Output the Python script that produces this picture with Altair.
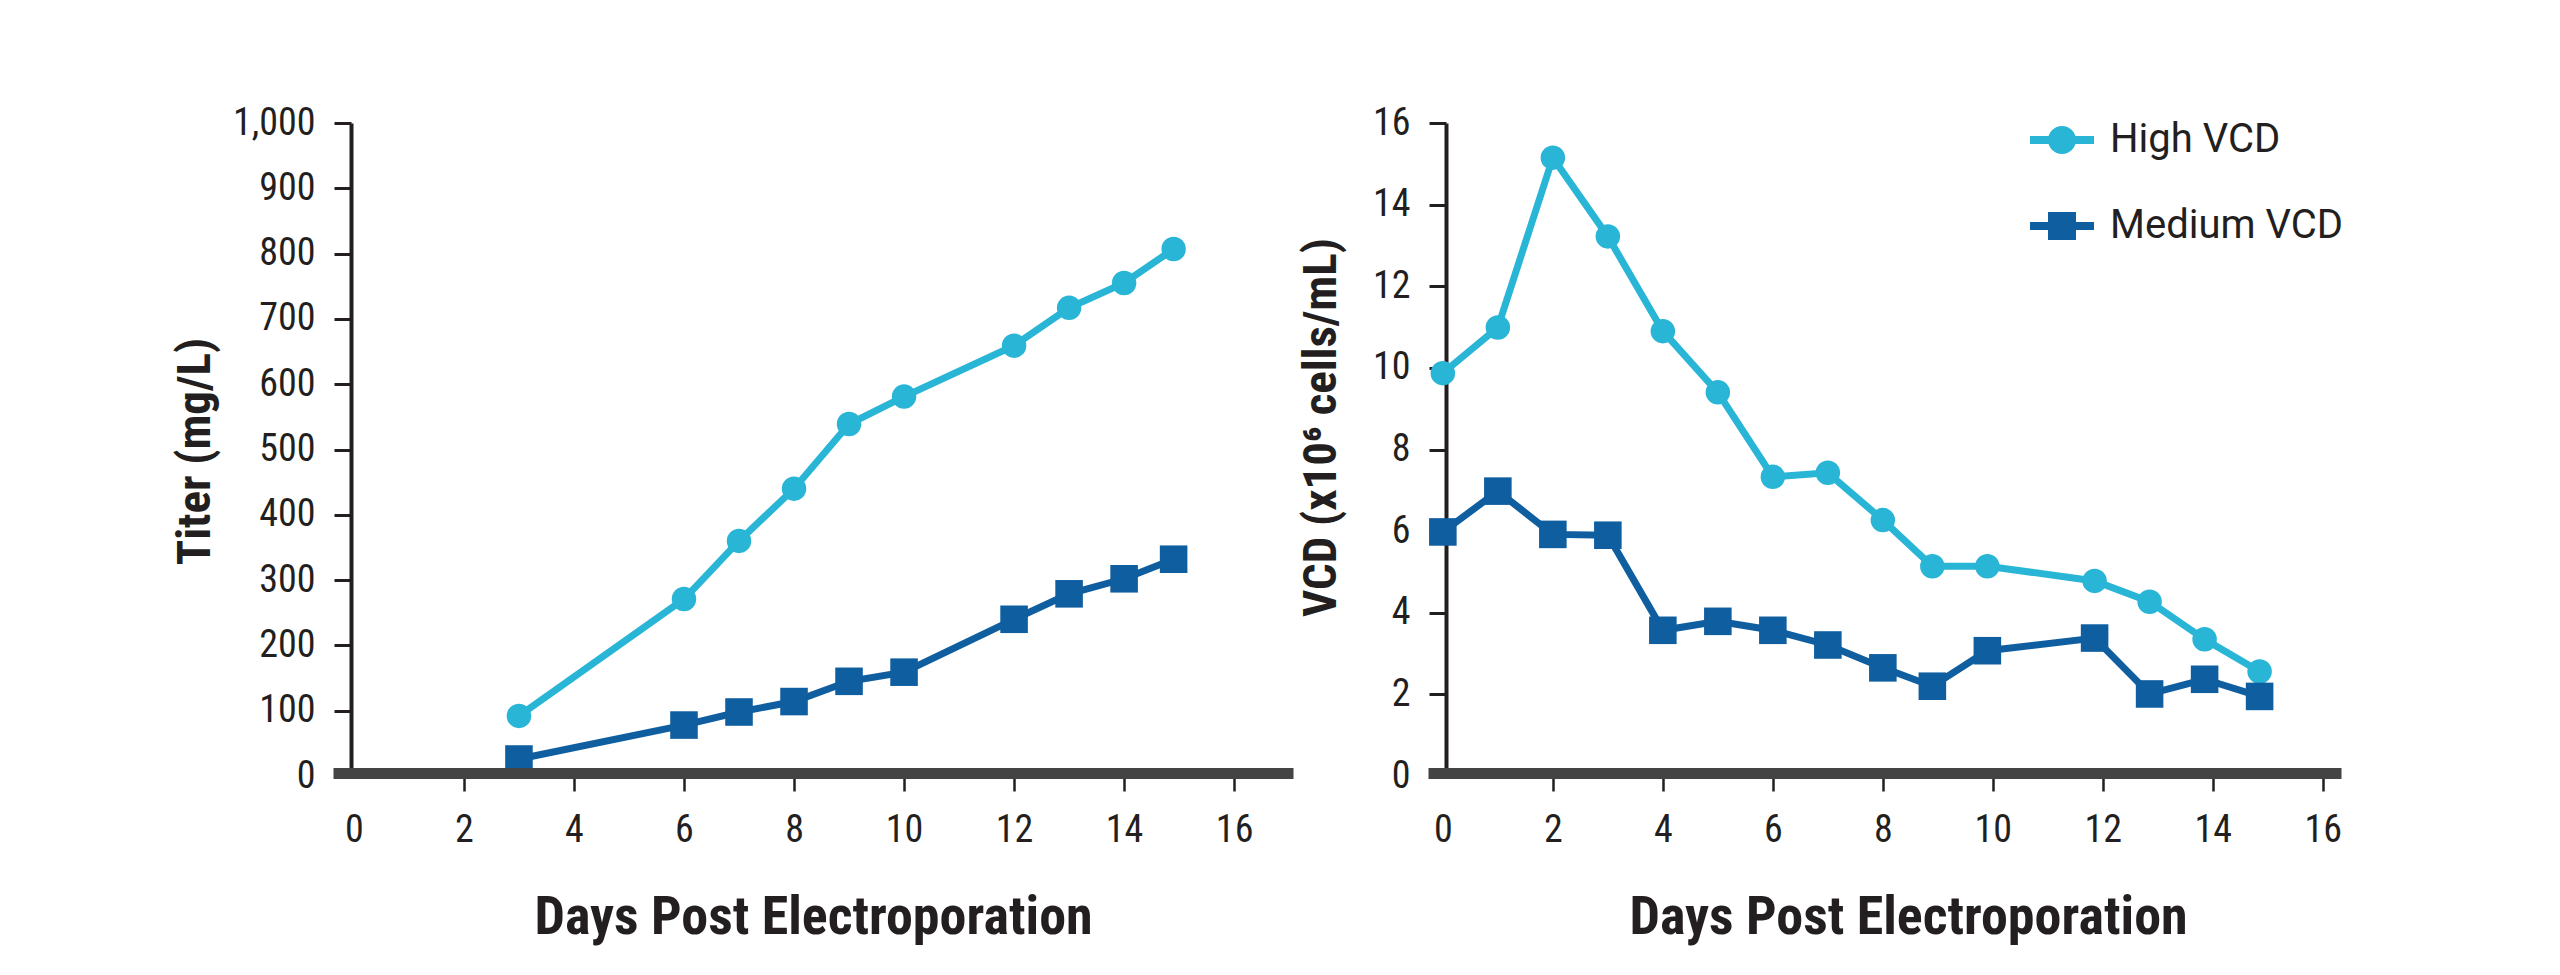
import altair as alt
import pandas as pd

# ---------------- data ----------------
series_names = ["High VCD", "Medium VCD"]
series_colors = ["#29B5D6", "#0F5EA0"]

days_titer = [3, 6, 7, 8, 9, 10, 12, 13, 14, 14.9]
titer_high = [92, 271, 360, 440, 539, 581, 659, 717, 755, 807]
titer_medium = [26, 78, 98, 114, 145, 159, 240, 279, 302, 332]

days_vcd = [0, 1, 2, 3, 4, 5, 6, 7, 8, 8.9, 9.9, 11.85, 12.85, 13.85, 14.85]
vcd_high = [9.87, 10.99, 15.15, 13.22, 10.9, 9.4, 7.33, 7.43, 6.27, 5.14, 5.14, 4.78, 4.27, 3.35, 2.56]
vcd_medium = [5.98, 6.98, 5.92, 5.9, 3.57, 3.79, 3.57, 3.21, 2.65, 2.2, 3.07, 3.38, 2.01, 2.37, 1.95]

x_ticks = [0, 2, 4, 6, 8, 10, 12, 14, 16]
titer_ticks = [0, 100, 200, 300, 400, 500, 600, 700, 800, 900, 1000]
vcd_ticks = [0, 2, 4, 6, 8, 10, 12, 14, 16]

x_title = "Days Post Electroporation"
titer_title = "Titer (mg/L)"
vcd_title = "VCD (x10\u2076 cells/mL)"

df_titer = pd.DataFrame({
    "day": days_titer + days_titer,
    "value": titer_high + titer_medium,
    "series": [series_names[0]] * len(days_titer) + [series_names[1]] * len(days_titer),
})
df_vcd = pd.DataFrame({
    "day": days_vcd + days_vcd,
    "value": vcd_high + vcd_medium,
    "series": [series_names[0]] * len(days_vcd) + [series_names[1]] * len(days_vcd),
})

# ---------------- style ----------------
FONT = "Liberation Sans Narrow, Roboto Condensed, DejaVu Sans Condensed, sans-serif"
LEG_FONT = "Roboto, Liberation Sans Narrow, sans-serif"
TXT = "#231F20"
H = 653

circle_leg = ("M-1,-0.125L1,-0.125L1,0.125L-1,0.125Z "
              "M-0.4375,0A0.4375,0.4375,0,1,1,0.4375,0A0.4375,0.4375,0,1,1,-0.4375,0Z")
square_leg = ("M-1,-0.125L1,-0.125L1,0.125L-1,0.125Z "
              "M-0.4375,-0.4375L0.4375,-0.4375L0.4375,0.4375L-0.4375,0.4375Z")


def color_enc(legend=None):
    return alt.Color("series:N", scale=alt.Scale(domain=series_names, range=series_colors), legend=legend)


def x_enc(domain):
    return alt.X(
        "day:Q",
        scale=alt.Scale(domain=domain, nice=False, zero=False),
        axis=alt.Axis(
            values=x_ticks, format="d", grid=False,
            domainColor="#444444", domainWidth=11, offset=-3,
            tickColor={"condition": {"test": "datum.value === 0", "value": "transparent"}, "value": TXT},
            tickWidth=2.5, tickSize=18,
            labelFont=FONT, labelFontSize=38, labelColor=TXT, labelPadding=20,
            labelFlush=False, labelOverlap=False,
            title=x_title, titleFont=FONT, titleFontWeight="bold", titleFontSize=54,
            titleColor=TXT, titleX=480, titleY=160, titleAlign="center",
            titleBaseline="alphabetic", zindex=2,
        ),
    )


def y_enc(domain, ticks, fmt, title, tx, ty):
    return alt.Y(
        "value:Q",
        scale=alt.Scale(domain=domain, nice=False),
        axis=alt.Axis(
            values=ticks, format=fmt, grid=False,
            domainColor=TXT, domainWidth=4, offset=-18,
            tickColor=TXT, tickWidth=3, tickSize=17,
            labelFont=FONT, labelFontSize=38, labelColor=TXT, labelPadding=19,
            labelOverlap=False,
            title=title, titleFont=FONT, titleFontWeight="bold", titleFontSize=47,
            titleColor=TXT, titleAngle=-90, titleX=tx, titleY=ty, titleAlign="center",
            titleBaseline="alphabetic", zindex=0,
        ),
    )


def panel(df, xdomain, width, ydomain, yticks, fmt, ytitle, tx, ty, with_legend):
    base = alt.Chart(df)
    x = x_enc(xdomain)
    y = y_enc(ydomain, yticks, fmt, ytitle, tx, ty)
    lines = base.mark_line(strokeWidth=7).encode(x=x, y=y, color=color_enc(), detail="series:N")
    points = base.mark_point(filled=True, opacity=1).encode(
        x=x, y=y, color=color_enc(),
        shape=alt.Shape("series:N", scale=alt.Scale(domain=series_names, range=["circle", "square"]), legend=None),
        size=alt.Size("series:N", scale=alt.Scale(domain=series_names, range=[600, 760]), legend=None),
    )
    layers = [lines, points]
    if with_legend:
        leg = dict(
            orient="none", legendX=602, legendY=-15, title=None,
            symbolSize=4096, symbolStrokeWidth=0, symbolOpacity=1,
            labelFont=LEG_FONT, labelFontSize=40, labelColor=TXT, labelOffset=16,
            labelLimit=0, rowPadding=34, padding=0,
        )
        legend_layer = base.transform_filter("false").mark_point(filled=True, opacity=1).encode(
            x=x, y=y,
            color=alt.Color("series:N", scale=alt.Scale(domain=series_names, range=series_colors),
                            legend=alt.Legend(**leg)),
            shape=alt.Shape("series:N", scale=alt.Scale(domain=series_names, range=[circle_leg, square_leg]),
                            legend=alt.Legend(**leg)),
        )
        layers.append(legend_layer)
    ch = alt.layer(*layers).properties(width=width, height=H)
    if with_legend:
        ch = ch.resolve_scale(shape="independent", color="independent")
    return ch


left = panel(df_titer, [-0.38, 17.07], 960, [0, 1000], titer_ticks, ",d", titer_title, -142, 328, False)
right = panel(df_vcd, [-0.27, 16.33], 913, [0, 16], vcd_ticks, "d", vcd_title, -111, 304, True)

chart = (
    alt.hconcat(left, right, spacing=135, bounds="flush")
    .resolve_scale(color="independent", shape="independent", size="independent")
    .resolve_legend(color="independent", shape="independent")
    .properties(padding={"left": 163, "top": 96, "right": 10, "bottom": 10}, background="white")
    .configure_view(stroke=None)
)

chart.save("out.html", embed_options={"renderer": "svg", "actions": False})
